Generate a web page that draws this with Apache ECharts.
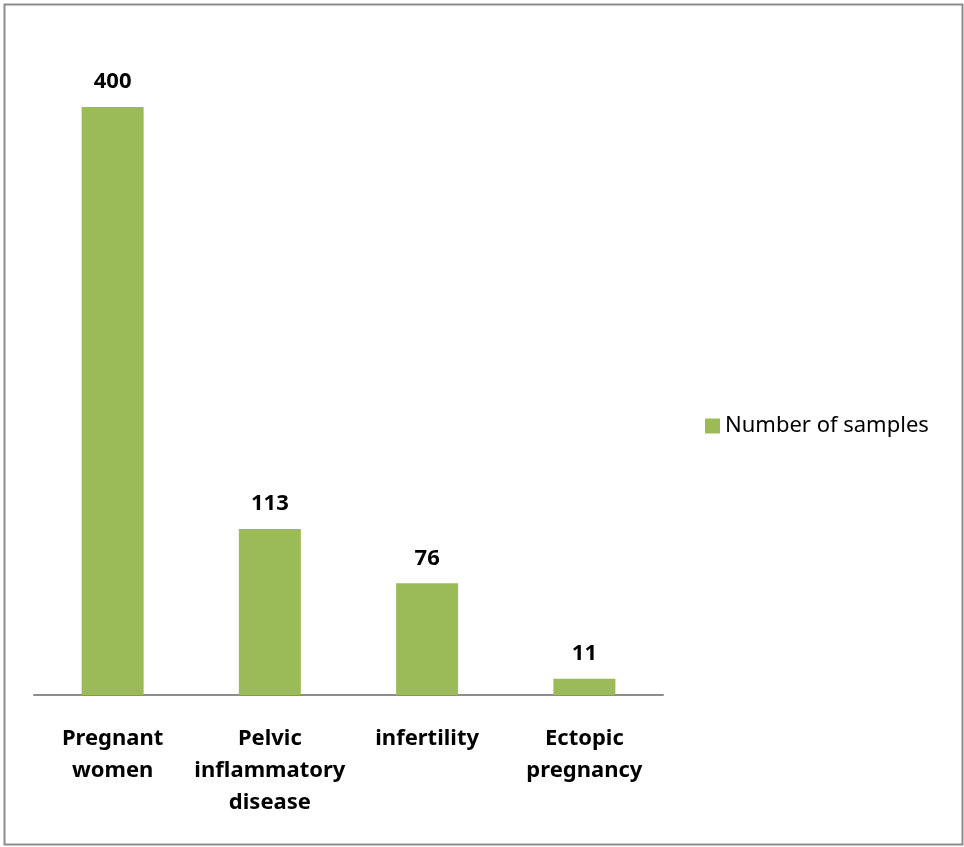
<!DOCTYPE html>
<html>
<head>
<meta charset="utf-8">
<script src="https://cdn.jsdelivr.net/npm/echarts@6/dist/echarts.min.js"></script>
<style>
  html, body { margin: 0; padding: 0; background: #fff; }
  #chart { width: 964px; height: 847px; }
</style>
</head>
<body>
<div id="chart"></div>
<script>
const categories = ['Pregnant\nwomen', 'Pelvic\ninflammatory\ndisease', 'infertility', 'Ectopic\npregnancy'];
const samples = [400, 113, 76, 11];
const seriesName = 'Number of samples';

const myChart = echarts.init(document.getElementById('chart'));

const option = {
  backgroundColor: '#fff',
  textStyle: { fontFamily: 'Noto Sans' },
  graphic: [
    {
      type: 'rect',
      shape: { x: 4.5, y: 4.5, width: 958, height: 840 },
      style: { fill: 'none', stroke: '#8c8c8c', lineWidth: 2 },
      silent: true
    }
  ],
  grid: { left: 34, right: 301, top: 33.5, bottom: 152 },
  legend: {
    orient: 'vertical',
    left: 700,
    top: 410,
    itemWidth: 15,
    itemHeight: 15,
    itemGap: 8,
    icon: 'rect',
    textStyle: { fontSize: 22, color: '#000', fontFamily: 'Noto Sans' },
    data: [seriesName]
  },
  xAxis: {
    type: 'category',
    data: categories,
    axisLine: { lineStyle: { color: '#8c8c8c', width: 2 } },
    axisTick: { show: false },
    axisLabel: {
      interval: 0,
      margin: 28,
      color: '#000',
      fontWeight: 'bold',
      fontSize: 22,
      lineHeight: 32,
      fontFamily: 'Noto Sans'
    }
  },
  yAxis: {
    type: 'value',
    min: 0,
    max: 450,
    show: false
  },
  series: [
    {
      name: seriesName,
      type: 'bar',
      data: samples,
      barWidth: 62,
      itemStyle: { color: '#9bbb59' },
      label: {
        show: true,
        position: 'top',
        distance: 14,
        color: '#000',
        fontWeight: 'bold',
        fontSize: 22,
        fontFamily: 'Noto Sans'
      }
    }
  ]
};

myChart.setOption(option);
</script>
</body>
</html>
